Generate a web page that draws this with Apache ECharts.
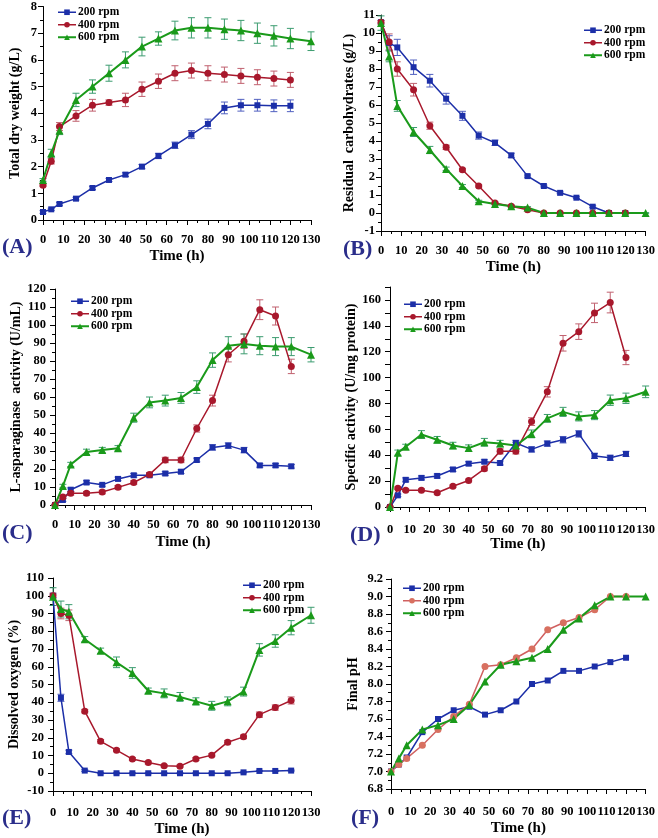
<!DOCTYPE html>
<html>
<head>
<meta charset="utf-8">
<script src="https://cdn.jsdelivr.net/npm/echarts@6/dist/echarts.min.js"></script>
<style>html,body{margin:0;padding:0;background:#fff}#c{width:658px;height:838px}</style>
</head>
<body>
<div id="c"></div>
<script>
// ---- time points ----
const T = [0,4,8,16,24,32,40,48,56,64,72,80,88,96,104,112,120];
const T600 = [0,4,8,16,24,32,40,48,56,64,72,80,88,96,104,112,120,130];
const SERIES_NAMES = ['200 rpm','400 rpm','600 rpm'];
const X_TICKS = [0,10,20,30,40,50,60,70,80,90,100,110,120,130];

// ---- (A) Total dry weight ----
const A_200 = [0.3,0.4,0.6,0.8,1.2,1.5,1.7,2.0,2.4,2.8,3.2,3.6,4.2,4.3,4.3,4.28,4.28];
const A_200_err = [0.05,0.04,0.05,0.05,0.06,0.06,0.07,0.08,0.1,0.12,0.15,0.18,0.22,0.22,0.22,0.22,0.22];
const A_400 = [1.3,2.2,3.5,3.9,4.3,4.4,4.5,4.9,5.2,5.5,5.6,5.5,5.45,5.4,5.35,5.3,5.25];
const A_400_err = [0.05,0.1,0.15,0.2,0.22,0.1,0.25,0.27,0.27,0.28,0.28,0.28,0.28,0.28,0.28,0.28,0.28];
const A_600 = [1.5,2.5,3.35,4.5,5.0,5.5,6.0,6.5,6.8,7.1,7.2,7.2,7.15,7.1,7.0,6.9,6.8,6.7];
const A_600_err = [0.05,0.15,0.15,0.25,0.25,0.3,0.3,0.35,0.25,0.35,0.38,0.38,0.38,0.38,0.38,0.38,0.38,0.35];

// ---- (B) Residual carbohydrates ----
const B_200 = [10.6,9.45,9.2,8.1,7.35,6.35,5.4,4.3,3.9,3.2,2.05,1.5,1.12,0.85,0.35,0,0];
const B_200_err = [0.1,0.4,0.45,0.4,0.35,0.3,0.25,0.2,0.15,0.12,0.06,0.05,0.05,0.05,0.05,0.03,0.03];
const B_400 = [10.6,9.5,8.0,6.85,4.85,3.65,2.4,1.5,0.55,0.38,0.18,0,0,0,0,0,0];
const B_400_err = [0.1,0.45,0.4,0.35,0.2,0.12,0.08,0.06,0.05,0.05,0.05,0.02,0.02,0.02,0.02,0.02,0.02];
const B_600 = [10.55,8.7,5.95,4.5,3.5,2.45,1.5,0.65,0.5,0.38,0.3,0,0,0,0,0,0,0];
const B_600_err = [0.4,0.3,0.3,0.25,0.2,0.1,0.08,0.06,0.05,0.05,0.05,0.02,0.02,0.02,0.02,0.02,0.02,0.02];

// ---- (C) L-asparaginase activity ----
const C_200 = [0,2.8,8.5,12.5,11.2,14.5,16.5,16.5,17.5,18.5,25,32,33,30.5,22,22,21.5];
const C_200_err = [0.3,0.8,1,1,0.8,1,1,1,1,1,1,1.5,1.5,1.5,1,1,1];
const C_400 = [0,4.5,6.5,6.5,7.2,9.8,12.5,17,25,25,42.5,58,83.5,91,108.5,105,77];
const C_400_err = [0.3,1,1,1,1,1,1,1,1.5,1.5,2,3,4,4,5.5,5,4];
const C_600 = [0,10.5,22.5,29.5,30.5,31.5,48.5,57,58,59.5,65.5,80.5,88.5,89.5,88.5,88,88,83.5];
const C_600_err = [0.3,1,1.2,1.5,1.5,1.5,2.5,3,3,3,3.5,4,5,5.5,5,5,5,4];

// ---- (D) Specific activity ----
const D_200 = [0,9,21,22.5,24,29,33.5,35,34,49.5,44.5,49,52,56.5,39.5,38,41];
const D_200_err = [0.5,1,1.5,1.5,1.5,1.5,1.5,1.5,1.5,2,2,2,2.5,2.5,2,2,2];
const D_400 = [0,14.5,13,13,11,16,20.5,29.5,43,43,66,89,126.5,135.5,150,158,115.5];
const D_400_err = [0.5,1,1,1,1,1,1,1.5,2,2,3,4,6,6,7.5,8,5.5];
const D_600 = [0,42,46.5,56,52,47.5,45.5,50,49,47.5,56.5,68.5,73.5,70,71,82.5,84,89];
const D_600_err = [0.5,2,2,3,2.5,2.5,2.5,3,2.5,2.5,3,3,3.5,3.5,3.5,4,4,4.5];

// ---- (E) Dissolved oxygen ----
const E_200 = [100,42.5,12,1.5,0,0,0,0,0,0,0,0,0,0.5,1.3,1.3,1.5];
const E_200_err = [1,2,1,0.5,0.3,0.3,0.3,0.3,0.3,0.3,0.3,0.3,0.3,0.3,0.3,0.3,0.3];
const E_400 = [100,90,89,35,18,13,8,6,4.2,4,8,10.2,17.5,20.5,33,37,41];
const E_400_err = [1.5,3,3,1,1,0.8,0.8,0.8,0.6,0.6,0.8,0.8,1,1,1.5,1.5,2];
const E_600 = [99.5,92.5,91,75.5,69,62.5,56.5,46.5,45,43,40.5,38,40.5,46,69.5,74.5,82,89];
const E_600_err = [5,4.5,4,1.5,1.5,3,3,1.5,2.5,2.5,2,2.5,2.5,2.5,3.5,3.5,4,4.5];

// ---- (F) Final pH ----
const F_200 = [7.0,7.08,7.16,7.45,7.6,7.7,7.74,7.65,7.7,7.8,8.0,8.04,8.15,8.15,8.2,8.25,8.3];
const F_400 = [7.0,7.08,7.15,7.3,7.48,7.63,7.77,8.2,8.22,8.3,8.4,8.62,8.7,8.76,8.85,9.0,9.0];
const F_600 = [7.0,7.15,7.3,7.48,7.53,7.6,7.76,8.03,8.22,8.26,8.3,8.4,8.62,8.75,8.9,9.0,9.0,9.0];

const FONT = '"Liberation Serif","Times New Roman",serif';
const BLUE = '#1c2fa8', RED = '#a8182c', GREEN = '#1a9a1a';
const BLUE_E = '#5060c0', RED_E = '#c0606e', GREEN_E = '#3c9c70';
const RED_F = '#d06060', RED_F_M = '#d87060';

const panels = [
  {lbl:'(A)', grid:{left:43, top:5, width:268, height:215}, y:{min:0,max:8,interval:1}, yName:'Total dry weight (g/L)', yGap:21, xGap:29, xMargin:13, yMargin:6,
   legend:{left:52, top:1}, lblPos:[2,248], data:[A_200,A_400,A_600], err:[A_200_err,A_400_err,A_600_err]},
  {lbl:'(B)', grid:{left:381, top:15, width:265, height:216}, y:{min:-1,max:11,interval:1}, yName:'Residual  carbohydrates (g/L)', yGap:25, xGap:29, xMargin:13, yMargin:6,
   legend:{left:578, top:19}, lblPos:[343,250], data:[B_200,B_400,B_600], err:[B_200_err,B_400_err,B_600_err]},
  {lbl:'(C)', grid:{left:55, top:289, width:256, height:216}, y:{min:0,max:120,interval:10}, yName:'L-asparaginase  activity (U/mL)', yGap:32, xGap:30, xMargin:13, yMargin:9,
   legend:{left:65, top:290}, lblPos:[2,534], data:[C_200,C_400,C_600], err:[C_200_err,C_400_err,C_600_err]},
  {lbl:'(D)', grid:{left:390, top:287, width:258, height:220}, y:{min:0,max:170,interval:10,every:20}, yName:'Specific activity (U/mg protein)', yGap:32, xGap:29, xMargin:16, yMargin:9,
   legend:{left:398, top:293}, lblPos:[350,536], data:[D_200,D_400,D_600], err:[D_200_err,D_400_err,D_600_err]},
  {lbl:'(E)', grid:{left:53, top:578, width:258, height:214}, y:{min:-10,max:110,interval:10}, yName:'Dissolved oxygen (%)', yGap:31, xGap:31, xMargin:15, yMargin:9,
   legend:{left:237, top:574}, lblPos:[2,819], data:[E_200,E_400,E_600], err:[E_200_err,E_400_err,E_600_err]},
  {lbl:'(F)', grid:{left:391, top:579, width:257, height:210}, y:{min:6.8,max:9.2,interval:0.2,dec:1}, yName:'Final pH', yGap:31, xGap:32, xMargin:16, yMargin:8,
   legend:{left:397, top:577}, lblPos:[351,819], data:[F_200,F_400,F_600], err:null, pH:true}
];

const grids=[], xAxes=[], yAxes=[], series=[], legends=[], graphics=[];
const axisBase = {
  axisLine:{show:true, onZero:false, lineStyle:{color:'#000', width:1}},
  axisTick:{show:true, inside:false, length:5, lineStyle:{color:'#000'}},
  minorTick:{show:true, splitNumber:2, length:3, lineStyle:{color:'#000'}},
  splitLine:{show:false},
  nameTextStyle:{fontFamily:FONT, fontWeight:'bold', fontSize:14, color:'#000'}
};

function errSeries(gi, times, vals, errs, color){
  return {
    type:'custom', xAxisIndex:gi, yAxisIndex:gi, z:1, silent:true,
    data: times.map((t,i)=>[t, vals[i]-errs[i], vals[i]+errs[i]]),
    encode:{x:0, y:[1,2]},
    renderItem:function(params, api){
      const x=api.value(0), lo=api.value(1), hi=api.value(2);
      const p1=api.coord([x,lo]), p2=api.coord([x,hi]);
      const w=3.5, st={stroke:color, lineWidth:1};
      return {type:'group', children:[
        {type:'line', shape:{x1:p1[0],y1:p1[1],x2:p2[0],y2:p2[1]}, style:st},
        {type:'line', shape:{x1:p1[0]-w,y1:p1[1],x2:p1[0]+w,y2:p1[1]}, style:st},
        {type:'line', shape:{x1:p2[0]-w,y1:p2[1],x2:p2[0]+w,y2:p2[1]}, style:st}
      ]};
    }
  };
}

panels.forEach((p, gi)=>{
  grids.push(Object.assign({containLabel:false}, p.grid));
  xAxes.push(Object.assign({}, axisBase, {
    type:'value', gridIndex:gi, min:0, max:130, interval:10,
    name:'Time (h)', nameLocation:'middle', nameGap:p.xGap,
    nameTextStyle:{fontFamily:FONT, fontWeight:'bold', fontSize:15, color:'#000'},
    axisLabel:{fontFamily:FONT, fontWeight:'bold', fontSize:12.5, color:'#000', margin:p.xMargin,
      formatter:(v)=> X_TICKS.indexOf(v)>=0 ? String(v) : ''}
  }));
  const yc = p.y;
  yAxes.push(Object.assign({}, axisBase, {
    type:'value', gridIndex:gi, min:yc.min, max:yc.max, interval:yc.interval,
    name:p.yName, nameLocation:'middle', nameGap:p.yGap, nameRotate:90,
    minorTick: yc.every ? {show:false} : axisBase.minorTick,
    axisLabel:{fontFamily:FONT, fontWeight:'bold', fontSize:12.5, color:'#000', margin:p.yMargin,
      formatter:(v)=>{
        if (yc.every) return (Math.round(v)%yc.every===0) ? String(Math.round(v)) : '';
        if (yc.dec) return v.toFixed(yc.dec);
        return String(Math.round(v));
      }}
  }));
  const times=[T,T,T600];
  const colors = p.pH ? [BLUE, RED_F, GREEN] : [BLUE, RED, GREEN];
  const mcolors = p.pH ? [BLUE, RED_F_M, GREEN] : [BLUE, RED, GREEN];
  const ecolors = [BLUE_E, RED_E, GREEN_E];
  const symbols = ['rect','circle','triangle'];
  const sizes = [6,7,8];
  const widths = [1.5,1.5,2];
  if (p.err){
    for (let k=0;k<3;k++) series.push(errSeries(gi, times[k], p.data[k], p.err[k], ecolors[k]));
  }
  for (let k=0;k<3;k++){
    series.push({
      type:'line', name:SERIES_NAMES[k], xAxisIndex:gi, yAxisIndex:gi, z:2,
      data: times[k].map((t,i)=>[t, p.data[k][i]]),
      symbol:symbols[k], symbolSize:sizes[k], showAllSymbol:true,
      lineStyle:{color:colors[k], width:widths[k]},
      itemStyle:{color:mcolors[k]},
      animation:false
    });
  }
  legends.push({
    orient:'vertical', left:p.legend.left, top:p.legend.top, itemWidth:18, itemHeight:7, itemGap:0,
    selectedMode:false,
    textStyle:{fontFamily:FONT, fontWeight:'bold', fontSize:11.5, color:'#000', lineHeight:12.5, padding:[0,0,0,-3]},
    data: SERIES_NAMES.map((n,k)=>({name:n, itemStyle:{color:mcolors[k]}, lineStyle:{color:colors[k], width:widths[k]}}))
  });
  graphics.push({type:'text', left:p.lblPos[0], top:p.lblPos[1]-12,
    style:{text:p.lbl, fontFamily:FONT, fontWeight:'bold', fontSize:22, fill:'#2a2d8a'}});
});

const chart = echarts.init(document.getElementById('c'), null, {renderer:'canvas'});
chart.setOption({
  backgroundColor:'#fff', animation:false,
  grid:grids, xAxis:xAxes, yAxis:yAxes, series:series, legend:legends, graphic:graphics
});
</script>
</body>
</html>
